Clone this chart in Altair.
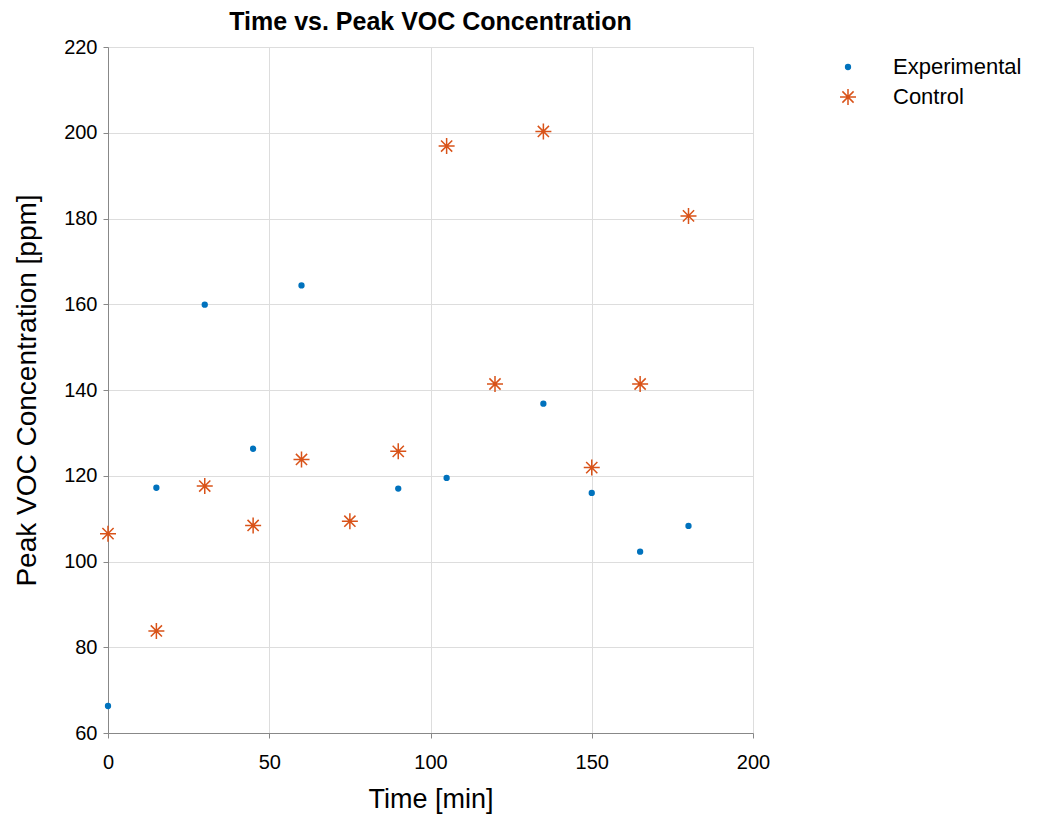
import altair as alt
import pandas as pd

# ---- data ----
exp_time = [0, 15, 30, 45, 60, 90, 105, 135, 150, 165, 180]
exp_peak = [66.3, 117.2, 159.9, 126.3, 164.4, 117.0, 119.5, 136.8, 116.0, 102.3, 108.3]

ctl_time = [0, 15, 30, 45, 60, 75, 90, 105, 120, 135, 150, 165, 180]
ctl_peak = [106.5, 83.8, 117.6, 108.4, 123.8, 109.4, 125.7, 196.9, 141.4, 200.3, 121.9, 141.4, 180.6]

series = ["Experimental", "Control"]
title_text = ["Time vs. Peak VOC Concentration"]
colors = ["#0072BD", "#D95319"]
fills = ["#0072BD", "transparent"]

dot_path = "M -0.3 0 A 0.3 0.3 0 1 1 0.3 0 A 0.3 0.3 0 1 1 -0.3 0 Z"
star_path = ("M -1 0 L 1 0 M 0 -1 L 0 1 "
             "M -0.7 -0.7 L 0.7 0.7 M -0.7 0.7 L 0.7 -0.7")

df = pd.concat([
    pd.DataFrame({"Time": exp_time, "Peak": exp_peak, "Series": series[0]}),
    pd.DataFrame({"Time": ctl_time, "Peak": ctl_peak, "Series": series[1]}),
])

font = "Liberation Sans"
txt = "#262626"

legend = alt.Legend(
    title=None, orient="none", legendX=729, legendY=9, padding=0,
    labelFontSize=22, labelFont=font, labelColor="#000000",
    labelOffset=34, symbolSize=256, symbolStrokeWidth=1.5,
    rowPadding=8,
)

points = alt.Chart(df).mark_point(filled=False, strokeWidth=1.5, size=256, opacity=1).encode(
    x=alt.X("Time:Q", title="Time [min]",
            scale=alt.Scale(domain=[0, 200], nice=False),
            axis=alt.Axis(values=[0, 50, 100, 150, 200], labelFontSize=20,
                          titleFontSize=27, titleFontWeight="normal",
                          labelFlush=False,
                          labelPadding=14, titlePadding=14)),
    y=alt.Y("Peak:Q", title="Peak VOC Concentration  [ppm]",
            scale=alt.Scale(domain=[60, 220], nice=False),
            axis=alt.Axis(values=list(range(60, 221, 20)), labelFontSize=20,
                          titleFontSize=28, titleFontWeight="normal",
                          labelFlush=False,
                          labelPadding=6, titlePadding=22)),
    color=alt.Color("Series:N", scale=alt.Scale(domain=series, range=colors), legend=legend),
    fill=alt.Fill("Series:N", scale=alt.Scale(domain=series, range=fills), legend=legend),
    shape=alt.Shape("Series:N", scale=alt.Scale(domain=series, range=[dot_path, star_path]), legend=legend),
)

title = alt.Chart(pd.DataFrame({"t": title_text})).mark_text(
    font=font, fontSize=25, fontWeight="bold", color="#000000",
    align="center", baseline="alphabetic",
).encode(text="t:N", x=alt.value(322.5), y=alt.value(-17))

chart = alt.layer(points, title).properties(
    width=645, height=686,
    autosize=alt.AutoSizeParams(type="none"),
    padding={"left": 100, "top": 39, "right": 284, "bottom": 84},
).configure_axis(
    labelFont=font, titleFont=font, labelColor=txt, titleColor=txt,
    domainColor=txt, domainWidth=1, ticks=False,
    gridColor="#dfdfdf", gridWidth=1,
).configure_view(
    stroke=txt, strokeWidth=1,
).configure(background="white")

chart.save("out.html", embed_options={"renderer": "svg", "actions": False})
